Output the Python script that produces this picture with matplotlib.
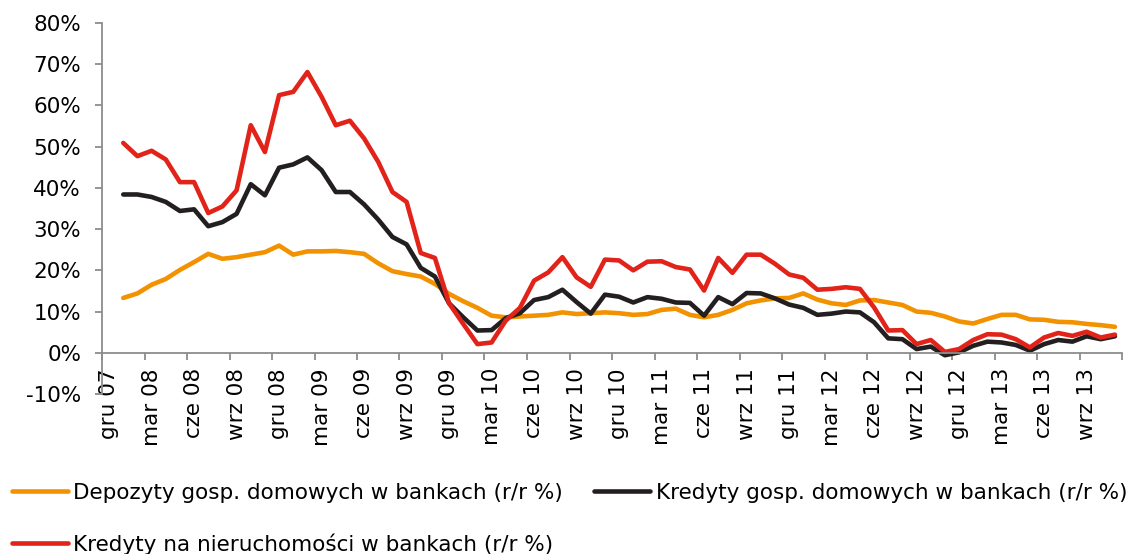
import numpy as np
import matplotlib
matplotlib.use('Agg')
import matplotlib.pyplot as plt
from matplotlib.ticker import FuncFormatter
from matplotlib.lines import Line2D


# Monthly series, sty 08 .. lis 13 (category 0 = gru 07 is empty).
depozyty = [13.3, 14.4, 16.5, 17.9, 20.1, 22.0, 24.0, 22.8, 23.2, 23.8,
            24.4, 26.0, 23.8, 24.6, 24.6, 24.7, 24.4, 24.0, 21.7, 19.8,
            19.1, 18.5, 16.7, 14.3, 12.5, 10.9, 9.0, 8.6, 8.8, 9.0,
            9.2, 9.8, 9.4, 9.6, 9.8, 9.6, 9.2, 9.4, 10.4, 10.7,
            9.2, 8.6, 9.2, 10.4, 12.0, 12.7, 13.2, 13.3, 14.4, 12.9,
            12.0, 11.6, 12.7, 12.8, 12.2, 11.6, 10.0, 9.7, 8.8, 7.6,
            7.1, 8.2, 9.2, 9.2, 8.1, 8.0, 7.5, 7.4, 7.0, 6.7,
            6.3]

kredyty = [38.4, 38.4, 37.8, 36.6, 34.4, 34.8, 30.7, 31.7, 33.7, 40.9,
           38.2, 44.9, 45.7, 47.4, 44.3, 39.0, 39.0, 36.0, 32.3, 28.1,
           26.3, 20.6, 18.5, 12.0, 8.6, 5.4, 5.5, 8.4, 9.6, 12.8,
           13.5, 15.3, 12.3, 9.5, 14.1, 13.6, 12.2, 13.5, 13.1, 12.2,
           12.1, 9.0, 13.5, 11.8, 14.5, 14.4, 13.2, 11.7, 10.9, 9.2,
           9.5, 10.0, 9.8, 7.4, 3.5, 3.3, 0.9, 1.5, -0.6, 0.1,
           1.7, 2.7, 2.5, 1.9, 0.5, 2.1, 3.1, 2.7, 4.0, 3.3,
           4.0]

nieruchomosci = [50.9, 47.7, 49.0, 46.9, 41.4, 41.4, 33.9, 35.5, 39.4, 55.2,
                 48.7, 62.5, 63.3, 68.1, 62.1, 55.2, 56.3, 52.0, 46.3, 39.0,
                 36.6, 24.2, 23.0, 12.0, 7.0, 2.1, 2.5, 7.8, 10.9, 17.5,
                 19.5, 23.2, 18.3, 16.0, 22.6, 22.4, 20.0, 22.1, 22.2, 20.8,
                 20.2, 15.1, 23.0, 19.4, 23.8, 23.8, 21.6, 19.0, 18.2, 15.3,
                 15.5, 15.9, 15.5, 11.0, 5.4, 5.5, 2.1, 3.1, 0.2, 0.9,
                 3.1, 4.5, 4.4, 3.3, 1.3, 3.7, 4.8, 4.1, 5.1, 3.7,
                 4.4]

tick_labels = ['gru 07', 'mar 08', 'cze 08', 'wrz 08', 'gru 08', 'mar 09',
               'cze 09', 'wrz 09', 'gru 09', 'mar 10', 'cze 10', 'wrz 10',
               'gru 10', 'mar 11', 'cze 11', 'wrz 11', 'gru 11', 'mar 12',
               'cze 12', 'wrz 12', 'gru 12', 'mar 13', 'cze 13', 'wrz 13']

names = ['Depozyty gosp. domowych w bankach (r/r %)',
         'Kredyty gosp. domowych w bankach (r/r %)',
         'Kredyty na nieruchomości w bankach (r/r %)']
colors = ['#F39200', '#231F20', '#E2231A']

n_cat = 72
x = np.arange(1, n_cat)

plt.rcParams['font.family'] = ['DejaVu Sans']
fs = 15.5
gray = '#8C8C8C'

fig = plt.figure(figsize=(11.33, 5.54), dpi=100)
ax = fig.add_axes([102/1133, 1 - 394/554, 1020/1133, 371/554])

for series, c in zip([depozyty, kredyty, nieruchomosci], colors):
    ax.plot(x, series, c=c, lw=3.3, solid_capstyle='round', solid_joinstyle='round')

ax.set_xlim(-0.5, n_cat - 0.5)
ax.set_ylim(-10, 80)

ax.spines['top'].set_visible(False)
ax.spines['right'].set_visible(False)
ax.spines['bottom'].set_position(('data', 0))
for s in ['left', 'bottom']:
    ax.spines[s].set_color(gray)
    ax.spines[s].set_linewidth(1.3)

ax.set_yticks(np.arange(-10, 81, 10))
ax.yaxis.set_major_formatter(FuncFormatter(lambda v, p: '%d%%' % v))
ax.tick_params(axis='y', direction='out', length=5, width=1.3, color=gray,
               pad=10, labelsize=fs)

ax.set_xticks(np.arange(-0.5, n_cat, 3))
ax.set_xticklabels([])
ax.set_xticks(np.arange(0, n_cat - 2, 3), minor=True)
ax.set_xticklabels(tick_labels, minor=True, rotation=90, fontsize=fs)
ax.tick_params(axis='x', which='major', direction='out', length=5, width=1.3, color=gray)
ax.tick_params(axis='x', which='minor', length=0, pad=11)

handles = [Line2D([], [], c=c, lw=3.3, solid_capstyle='round') for c in colors]
order = [0, 2, 1]
fig.legend([handles[i] for i in order], [names[i] for i in order],
           loc='upper left', bbox_to_anchor=(12/1133, 1 - 483/554),
           ncol=2, frameon=False, fontsize=fs, borderpad=0, borderaxespad=0,
           handlelength=2.6, handletextpad=0.25, columnspacing=1.45, labelspacing=1.4)

plt.savefig('out.png', dpi=100)
